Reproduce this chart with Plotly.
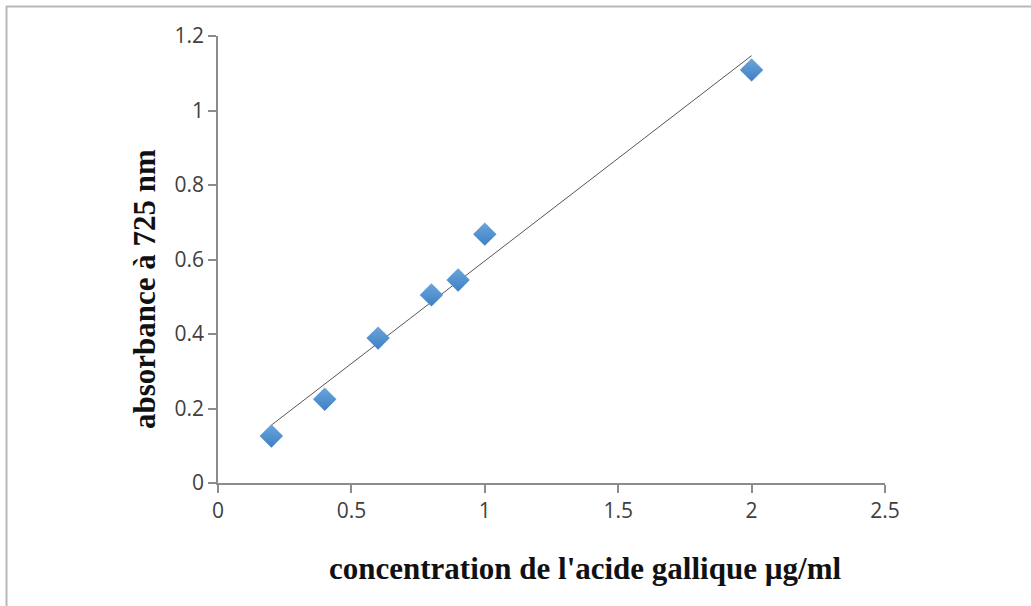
import numpy as np
import plotly.graph_objects as go

# Gallic acid calibration data
concentration = [0.2, 0.4, 0.6, 0.8, 0.9, 1.0, 2.0]
absorbance = [0.126, 0.225, 0.389, 0.505, 0.545, 0.668, 1.109]

x_ticks = [0, 0.5, 1, 1.5, 2, 2.5]
x_tick_text = ["0", "0.5", "1", "1.5", "2", "2.5"]
y_ticks = [0, 0.2, 0.4, 0.6, 0.8, 1.0, 1.2]
y_tick_text = ["0", "0.2", "0.4", "0.6", "0.8", "1", "1.2"]

# Linear regression trend line over the measured range
slope, intercept = np.polyfit(concentration, absorbance, 1)
fit_x = [min(concentration), max(concentration)]
fit_y = [slope * v + intercept for v in fit_x]

W, H = 1031, 606
L, R, T, B = 218, 146, 36, 123

fig = go.Figure()
fig.add_trace(go.Scatter(
    x=fit_x, y=fit_y, mode="lines",
    line=dict(color="#555555", width=1),
    hoverinfo="skip", showlegend=False,
))
fig.add_trace(go.Scatter(
    x=concentration, y=absorbance, mode="markers",
    marker=dict(symbol="diamond", size=18,
                color="#6aa6dc",
                gradient=dict(type="vertical", color="#3f7fc4"),
                line=dict(width=0)),
    showlegend=False,
))

axis_common = dict(
    showgrid=False, zeroline=False, showline=True,
    linecolor="#8c8c8c", linewidth=1.5,
    ticks="outside", ticklen=8, tickcolor="#8c8c8c", tickwidth=1.5,
    tickfont=dict(family="Open Sans", size=21, color="#404040"),
)

fig.update_xaxes(range=[0, 2.5], tickvals=x_ticks, ticktext=x_tick_text, **axis_common)
fig.update_yaxes(range=[0, 1.2], tickvals=y_ticks, ticktext=y_tick_text, **axis_common)

pw, ph = W - L - R, H - T - B

def px_to_paper_x(px):
    return (px - L) / pw

def px_to_paper_y(py):
    return (H - B - py) / ph

title_font = dict(family="Liberation Serif", size=31, color="#111111")

fig.update_layout(
    width=W, height=H,
    margin=dict(l=L, r=R, t=T, b=B),
    plot_bgcolor="white", paper_bgcolor="white",
    annotations=[
        dict(text="<b>concentration de l'acide gallique µg/ml</b>",
             xref="paper", yref="paper",
             x=px_to_paper_x(585), y=px_to_paper_y(568),
             showarrow=False, font=title_font,
             xanchor="center", yanchor="middle"),
        dict(text="<b>absorbance à 725 nm</b>",
             xref="paper", yref="paper",
             x=px_to_paper_x(144), y=px_to_paper_y(289),
             showarrow=False, font=title_font, textangle=-90,
             xanchor="center", yanchor="middle"),
    ],
    shapes=[
        dict(type="line", xref="paper", yref="paper",
             x0=px_to_paper_x(6), x1=px_to_paper_x(W + 5),
             y0=px_to_paper_y(6.5), y1=px_to_paper_y(6.5),
             line=dict(color="#b8b8b8", width=2)),
        dict(type="line", xref="paper", yref="paper",
             x0=px_to_paper_x(6.5), x1=px_to_paper_x(6.5),
             y0=px_to_paper_y(6), y1=px_to_paper_y(H + 5),
             line=dict(color="#b8b8b8", width=2)),
    ],
)

fig.write_html("out.html")
